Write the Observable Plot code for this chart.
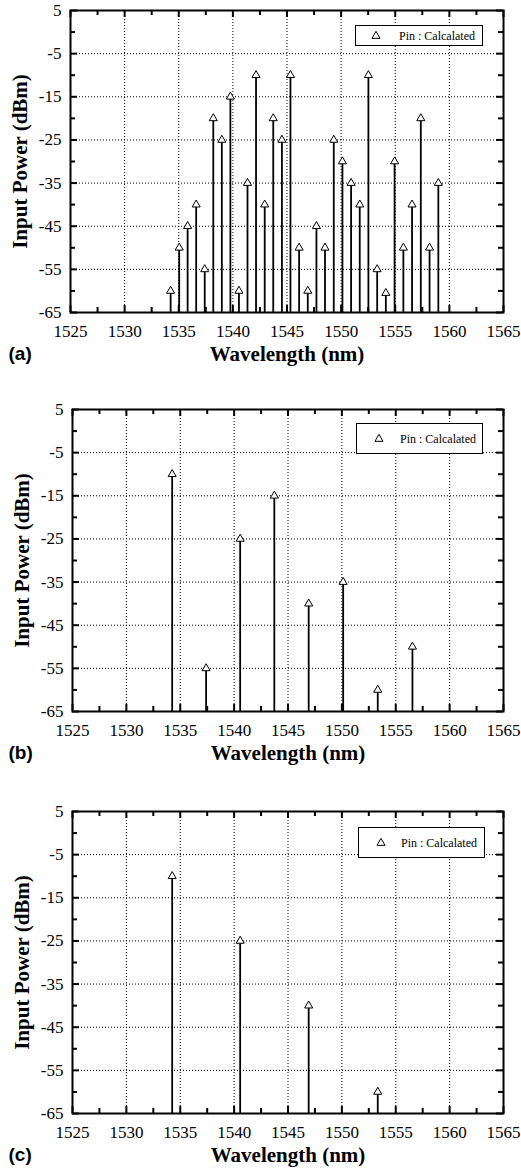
<!DOCTYPE html>
<html>
<head>
<meta charset="utf-8">
<script src="https://cdn.jsdelivr.net/npm/d3@7"></script>
<script src="https://cdn.jsdelivr.net/npm/@observablehq/plot@0.6"></script>
<style>
  html, body { margin: 0; padding: 0; background: #fff; }
  #root { position: relative; width: 521px; }
  .panel { position: relative; width: 521px; }
  .legend { position: absolute; box-sizing: border-box; border: 1.5px solid #000; background: #fff; }
  .legend svg { position: absolute; top: 50%; transform: translate(-50%, -50%); overflow: visible; }
  .legend span { position: absolute; top: 50%; transform: translateY(-50%); font-family: "Liberation Serif", "Times New Roman", serif; font-size: 12px; color: #000; white-space: nowrap; }
</style>
</head>
<body>
<div id="root"></div>
<script>
// ---- Data ----
const xDomain = [1525, 1565];
const yDomain = [-65, 5];
const xMajorTicks = [1525, 1530, 1535, 1540, 1545, 1550, 1555, 1560, 1565];
const xMinorTicks = [1527.5, 1532.5, 1537.5, 1542.5, 1547.5, 1552.5, 1557.5, 1562.5];
const yMajorTicks = [5, -5, -15, -25, -35, -45, -55, -65];
const yMinorTicks = [0, -10, -20, -30, -40, -50, -60];

const wavelengthA = [1534.25, 1535.04, 1535.82, 1536.61, 1537.40, 1538.19, 1538.98, 1539.77,
                     1540.56, 1541.35, 1542.14, 1542.94, 1543.73, 1544.53, 1545.32, 1546.12,
                     1546.92, 1547.72, 1548.51, 1549.32, 1550.12, 1550.92, 1551.72, 1552.52,
                     1553.33, 1554.13, 1554.94, 1555.75, 1556.55, 1557.36, 1558.17, 1558.98];
const powerA = [-60, -50, -45, -40, -55, -20, -25, -15,
                -60, -35, -10, -40, -20, -25, -10, -50,
                -60, -45, -50, -25, -30, -35, -40, -10,
                -55, -60.5, -30, -50, -40, -20, -50, -35];

const wavelengthB = [1534.25, 1537.40, 1540.56, 1543.73, 1546.92, 1550.12, 1553.33, 1556.55];
const powerB = [-10, -55, -25, -15, -40, -35, -60, -50];

const wavelengthC = [1534.25, 1540.56, 1546.92, 1553.33];
const powerC = [-10, -25, -40, -60];

const xLabel = "Wavelength (nm)";
const yLabel = "Input Power (dBm)";
const legendLabel = "Pin : Calcalated";
const panelLabels = ["(a)", "(b)", "(c)"];

// ---- Styling / layout ----
const serif = "\"Liberation Serif\", \"Times New Roman\", Times, serif";
const sans = "\"Liberation Sans\", Arial, Helvetica, sans-serif";

const panels = [
  {label: panelLabels[0], wl: wavelengthA, p: powerA, height: 398, mt: 10, mb: 86, ml: 70, mr: 18,
   legend: {left: 355, top: 25, width: 128, height: 21, tri: 20, text: 43}},
  {label: panelLabels[1], wl: wavelengthB, p: powerB, height: 402, mt: 11, mb: 89, ml: 72, mr: 18,
   legend: {left: 356, top: 25, width: 127, height: 31, tri: 22, text: 43}},
  {label: panelLabels[2], wl: wavelengthC, p: powerC, height: 375, mt: 11, mb: 62, ml: 72, mr: 18,
   legend: {left: 358, top: 27, width: 127, height: 31, tri: 22, text: 42}}
];

const root = document.getElementById("root");

for (const cfg of panels) {
  const W = 521;
  const plotW = W - cfg.ml - cfg.mr;
  const plotH = cfg.height - cfg.mt - cfg.mb;
  const data = cfg.wl.map((w, i) => ({w, p: cfg.p[i]}));
  const majorLen = 7, minorLen = 5;
  const xGrid = xMajorTicks.slice(1, -1);
  const yGrid = yMajorTicks.slice(1, -1);

  const svg = Plot.plot({
    width: W,
    height: cfg.height,
    marginTop: cfg.mt,
    marginBottom: cfg.mb,
    marginLeft: cfg.ml,
    marginRight: cfg.mr,
    style: {background: "#fff", color: "#000", overflow: "visible", fontFamily: serif},
    x: {domain: xDomain, label: null},
    y: {domain: yDomain, label: null},
    marks: [
      // dotted grid
      Plot.ruleX(xGrid, {x: d => d, stroke: "#000", strokeWidth: 1, strokeDasharray: "1,2"}),
      Plot.ruleY(yGrid, {y: d => d, stroke: "#000", strokeWidth: 1, strokeDasharray: "1,2"}),
      // inward ticks: bottom & top
      Plot.tickX(xMajorTicks, {x: d => d, insetTop: plotH - majorLen, strokeWidth: 2}),
      Plot.tickX(xMinorTicks, {x: d => d, insetTop: plotH - minorLen, strokeWidth: 2}),
      Plot.tickX(xMajorTicks, {x: d => d, insetBottom: plotH - majorLen, strokeWidth: 2}),
      Plot.tickX(xMinorTicks, {x: d => d, insetBottom: plotH - minorLen, strokeWidth: 2}),
      // inward ticks: left & right
      Plot.tickY(yMajorTicks, {y: d => d, insetRight: plotW - majorLen, strokeWidth: 2}),
      Plot.tickY(yMinorTicks, {y: d => d, insetRight: plotW - minorLen, strokeWidth: 2}),
      Plot.tickY(yMajorTicks, {y: d => d, insetLeft: plotW - majorLen, strokeWidth: 2}),
      Plot.tickY(yMinorTicks, {y: d => d, insetLeft: plotW - minorLen, strokeWidth: 2}),
      // stems
      Plot.ruleX(data, {x: "w", y1: yDomain[0], y2: "p", stroke: "#000", strokeWidth: 1.8}),
      // markers
      Plot.dot(data, {x: "w", y: "p", symbol: "triangle", r: 3, fill: "#fff", stroke: "#000", strokeWidth: 1}),
      // frame
      Plot.frame({stroke: "#000", strokeWidth: 2}),
      // axes
      Plot.axisX({ticks: xMajorTicks, tickSize: 0, tickPadding: 12, tickFormat: d => String(d),
                  fontSize: 17, label: null}),
      Plot.axisY({ticks: yMajorTicks, tickSize: 0, tickPadding: 9, tickFormat: d => String(d),
                  fontSize: 17, label: null}),
      // axis titles
      Plot.text([yLabel], {frameAnchor: "left", dx: -50, rotate: -90, text: d => d, textAnchor: "middle",
                           fontSize: 21, fontWeight: "bold", fill: "#000"}),
      Plot.text([xLabel], {frameAnchor: "bottom", dy: 48, text: d => d, textAnchor: "middle",
                           fontSize: 21, fontWeight: "bold", fill: "#000"}),
      // panel letter
      Plot.text([cfg.label], {frameAnchor: "bottom-left", dx: 8 - cfg.ml, dy: 47, text: d => d,
                              textAnchor: "start", fontSize: 19, fontWeight: "bold", fill: "#000"})
    ]
  });

  // enforce fonts: serif everywhere, sans for the panel letter
  d3.select(svg).selectAll("text").style("font-family", serif);
  d3.select(svg).selectAll("text").filter(function() { return this.textContent === cfg.label; })
    .style("font-family", sans);

  const panel = document.createElement("div");
  panel.className = "panel";
  panel.style.height = cfg.height + "px";
  panel.appendChild(svg);

  // legend overlay
  const L = cfg.legend;
  const lg = document.createElement("div");
  lg.className = "legend";
  Object.assign(lg.style, {left: L.left + "px", top: L.top + "px", width: L.width + "px", height: L.height + "px"});
  const sym = d3.create("svg").attr("width", 10).attr("height", 10).style("left", L.tri + "px");
  sym.append("path")
    .attr("transform", "translate(5,5)")
    .attr("d", d3.symbol(d3.symbolTriangle, 3 * 3 * Math.PI)())
    .attr("fill", "#fff").attr("stroke", "#000").attr("stroke-width", 1);
  lg.appendChild(sym.node());
  const span = document.createElement("span");
  span.style.left = L.text + "px";
  span.textContent = legendLabel;
  lg.appendChild(span);
  panel.appendChild(lg);

  root.appendChild(panel);
}
</script>
</body>
</html>
